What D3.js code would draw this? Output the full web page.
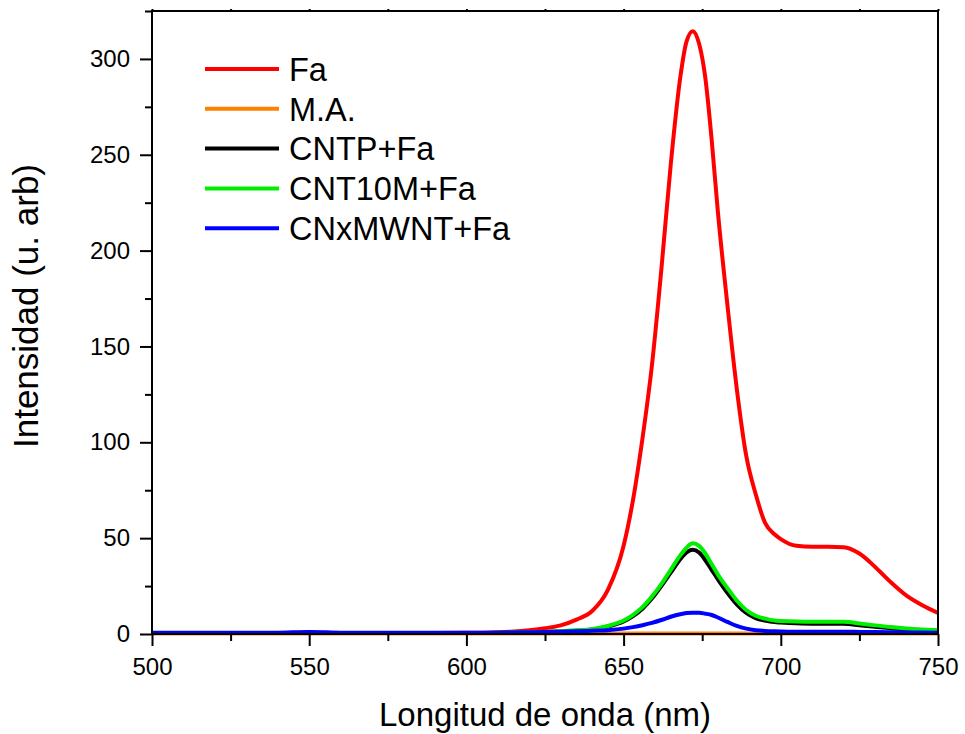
<!DOCTYPE html>
<html>
<head>
<meta charset="utf-8">
<script src="https://cdn.jsdelivr.net/npm/d3@7"></script>
<style>
  body { margin: 0; background: #fff; }
  svg { display: block; font-family: Arial, "Liberation Sans", sans-serif; }
</style>
</head>
<body>
<svg id="chart" width="965" height="734"></svg>
<script>
// ---- data ----
const wavelength = [500,510,520,530,540,550,560,570,580,590,600,605,610,615,620,625,630,635,640,645,650,653,656,659,662,665,668,670,672,674,676,678,680,683,686,689,692,695,698,700,705,710,715,720,725,730,735,740,745,750];
const seriesNames = ["Fa", "M.A.", "CNTP+Fa", "CNT10M+Fa", "CNxMWNT+Fa"];
const seriesColors = ["#ff0000", "#ff8000", "#000000", "#00ee00", "#0000ff"];
const fa =      [0.5,0.5,0.5,0.5,0.5,0.6,0.5,0.5,0.5,0.5,0.6,0.7,0.9,1.3,2,3,4.5,7.5,12,23,46,70,102,140,190,245,290,309,314.5,308,290,258,220,172,128,93,73,58,52,49.5,46,45.5,45.5,45.3,42,35,27,20,15,11];
const ma =      [0.3,0.3,0.3,0.3,0.3,0.3,0.3,0.3,0.3,0.3,0.3,0.3,0.3,0.3,0.3,0.3,0.3,0.3,0.3,0.3,0.3,0.3,0.3,0.3,0.3,0.3,0.3,0.3,0.3,0.3,0.3,0.3,0.3,0.3,0.3,0.3,0.3,0.3,0.3,0.3,0.3,0.3,0.3,0.3,0.3,0.3,0.3,0.3,0.3,0.3];
const cntp =    [0.5,0.5,0.5,0.5,0.5,0.6,0.5,0.5,0.5,0.5,0.5,0.55,0.6,0.7,0.85,1.0,1.3,1.7,2.3,3.9,6.5,9.3,13.2,18.5,25,32,39,42.5,44,42.5,38.5,33.5,28.5,21.5,15.5,11,8.3,7,6.2,6,5.6,5.4,5.4,5.3,4.6,3.8,3.0,2.4,2.0,1.7];
const cnt10m =  [0.5,0.5,0.5,0.5,0.5,0.6,0.5,0.5,0.5,0.5,0.5,0.55,0.6,0.75,0.9,1.1,1.4,1.9,2.5,4.2,7,10,14,19.5,26,33.5,41,45,47.3,46,42,36.5,31,24,17.5,12.5,9.5,8,7,6.8,6.5,6.4,6.4,6.4,5.5,4.5,3.6,2.9,2.4,2.0];
const cnx =     [0.6,0.6,0.6,0.6,0.7,1.1,0.7,0.6,0.6,0.6,0.6,0.6,0.7,0.8,0.9,1.0,1.2,1.4,1.7,2.0,2.8,3.6,4.6,5.8,7.3,9,10.3,10.9,11.1,11.1,10.6,9.9,8.6,6.3,4.2,2.8,2.0,1.6,1.4,1.3,1.2,1.2,1.2,1.2,1.1,1.0,0.9,0.8,0.8,0.7];
const seriesValues = [fa, ma, cntp, cnt10m, cnx];
const xTicks = [500,550,600,650,700,750];
const yTicks = [0,50,100,150,200,250,300];
const xMinorTicks = [525,575,625,675,725];
const yMinorTicks = [25,75,125,175,225,275,325];
const xTitle = "Longitud de onda (nm)";
const yTitle = "Intensidad (u. arb)";

// ---- layout ----
const svg = d3.select("#chart");
const L = 152, R = 938, T = 11, B = 634;
const x = d3.scaleLinear().domain([500, 750]).range([L, R]);
const y = d3.scaleLinear().domain([0, 325]).range([B, T]);

// series
const line = d3.line().x(d => x(d[0])).y(d => y(d[1])).curve(d3.curveMonotoneX);
const g = svg.append("g");
seriesValues.forEach((vals, i) => {
  g.append("path")
    .datum(wavelength.map((w, j) => [w, vals[j]]))
    .attr("fill", "none")
    .attr("stroke", seriesColors[i])
    .attr("stroke-width", 4)
    .attr("stroke-linejoin", "round")
    .attr("d", line);
});

// frame
svg.append("rect").attr("x", L).attr("y", T).attr("width", R - L).attr("height", B - T)
  .attr("fill", "none").attr("stroke", "#000").attr("stroke-width", 2);

// axes
const fontTick = 24;
const xAxis = svg.append("g").attr("transform", `translate(0,${B})`)
  .call(d3.axisBottom(x).tickValues(xTicks).tickSize(12).tickPadding(12).tickFormat(d3.format("d")));
const xMinor = svg.append("g").attr("transform", `translate(0,${B})`)
  .call(d3.axisBottom(x).tickValues(xMinorTicks).tickSize(7).tickFormat(""));
const yAxis = svg.append("g").attr("transform", `translate(${L},0)`)
  .call(d3.axisLeft(y).tickValues(yTicks).tickSize(12).tickPadding(10).tickFormat(d3.format("d")));
const yMinor = svg.append("g").attr("transform", `translate(${L},0)`)
  .call(d3.axisLeft(y).tickValues(yMinorTicks.filter(v => v <= 325)).tickSize(7).tickFormat(""));
const xTop = svg.append("g").attr("transform", `translate(0,${T})`)
  .call(d3.axisTop(x).tickValues(xTicks.concat(xMinorTicks)).tickSize(2).tickFormat(""));

[xAxis, xMinor, yAxis, yMinor, xTop].forEach(a => {
  a.select(".domain").remove();
  a.selectAll("line").attr("stroke", "#000").attr("stroke-width", 2);
  a.selectAll("text").attr("font-size", fontTick).attr("fill", "#000")
    .attr("font-family", "Arial, 'Liberation Sans', sans-serif");
});

// titles
svg.append("text").attr("x", (L + R) / 2).attr("y", 726).attr("text-anchor", "middle")
  .attr("font-size", 33).text(xTitle);
svg.append("text").attr("transform", `translate(38,306) rotate(-90)`).attr("text-anchor", "middle")
  .attr("font-size", 35).text(yTitle);

// legend
const lg = svg.append("g");
seriesNames.forEach((name, i) => {
  const cy = 69 + i * 39.8;
  lg.append("line").attr("x1", 205).attr("x2", 279).attr("y1", cy).attr("y2", cy)
    .attr("stroke", seriesColors[i]).attr("stroke-width", 4);
  lg.append("text").attr("x", 289).attr("y", cy).attr("dy", "0.36em")
    .attr("font-size", 32.5).text(name);
});
</script>
</body>
</html>
